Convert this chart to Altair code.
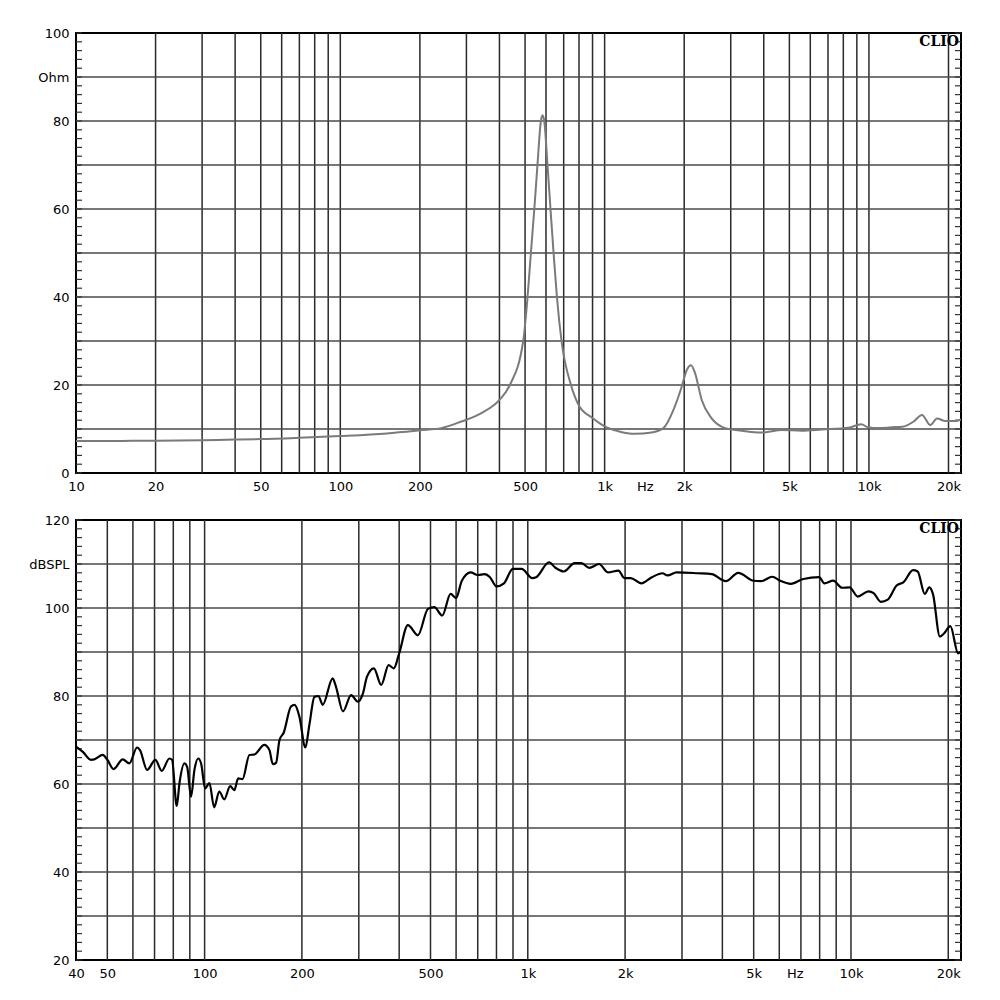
import altair as alt
import pandas as pd

# ---------------- data ----------------
imp_freq = [10, 15, 20, 30, 40, 50, 70, 100, 150, 200, 241, 287, 342, 400, 438, 492, 511, 526,
            542, 557, 574, 582, 591, 608, 624, 641, 660, 687, 746, 800, 900, 1000, 1127, 1302,
            1507, 1669, 1820, 1957, 2045, 2123, 2198, 2330, 2541, 2856, 3304, 3932, 4683, 5572,
            6637, 8376, 9350, 9920, 10880, 12220, 13340, 14770, 15880, 17070, 18100, 19450,
            21230, 22300]
imp_ohm = [7.3, 7.3, 7.35, 7.45, 7.6, 7.7, 8.0, 8.4, 9.0, 9.7, 10.2, 11.7, 13.6, 16.6, 20.0, 30.0,
           40.0, 50.0, 60.0, 70.0, 80.0, 81.3, 80.0, 70.0, 60.0, 50.0, 40.0, 30.0, 20.0, 15.3,
           12.5, 10.6, 9.5, 8.9, 9.2, 10.2, 14.3, 19.6, 23.4, 24.5, 22.7, 16.6, 12.4, 10.2, 9.6,
           9.2, 9.8, 9.6, 9.9, 10.3, 11.1, 10.4, 10.2, 10.4, 10.5, 11.7, 13.2, 10.9, 12.4, 11.8,
           11.8, 12.2]

spl_freq = [40, 42, 44.5, 45.6, 48.4, 50, 52.3, 55.8, 58.5, 61.8, 63.1, 66.4, 70.4, 73.7, 77.8,
            79.3, 82, 83.6, 86.6, 88.3, 90.8, 93, 95.6, 97.5, 100.4, 103.5, 107, 111, 115, 120,
            123.6, 127, 131, 137.6, 142.6, 153, 158.7, 162.6, 166.4, 170.5, 175.8, 185, 190,
            196.5, 205, 211, 218.7, 225, 232, 249, 255, 268, 284, 298, 309, 318, 334, 352, 371,
            385, 400, 425.6, 457, 491, 514, 543.6, 577, 600, 625, 666, 700, 735, 764, 800, 844,
            899, 957, 1032, 1061, 1164, 1215, 1293, 1395, 1466, 1549, 1662, 1769, 1908, 1990,
            2081, 2245, 2421, 2611, 2705, 2886, 3354, 3709, 4100, 4477, 5000, 5268, 5708, 6030,
            6520, 7121, 7971, 8276, 8812, 9383, 9900, 10500, 11325, 11750, 12370, 13000, 13840,
            14550, 15560, 16080, 16920, 17470, 17930, 18840, 19400, 20300, 21460, 21900]
spl_db = [68.5, 67.3, 65.5, 65.6, 66.6, 65.5, 63.4, 65.6, 64.7, 68.3, 67.7, 63.2, 65.5, 63.0, 65.8,
          65.5, 55.0, 60.2, 64.7, 63.9, 57.1, 63.2, 65.8, 64.7, 59.0, 60.2, 54.7, 58.3, 56.5, 59.5,
          58.6, 61.3, 61.1, 66.6, 66.7, 68.9, 67.7, 64.5, 64.8, 70.0, 71.7, 77.6, 78.0,
          75.3, 68.3, 73.5, 79.8, 80.0, 78.0, 84.0, 82.1, 76.5, 80.2, 78.7, 80.6, 84.4, 86.3, 82.5,
          87.0, 86.3, 89.7, 96.1, 93.8, 99.8, 100.2, 98.3, 103.2, 102.3, 106.2, 108.1, 107.5,
          107.7, 107.0, 104.9, 105.6, 108.9, 108.9, 106.8, 107.0, 110.4, 109.2, 108.3, 110.2,
          110.2, 109.1, 110.0, 108.1, 108.5, 106.8, 106.8, 105.6, 107.0, 107.9, 107.4, 108.1,
          107.9, 107.7, 106.1, 108.0, 106.2, 106.1, 107.1, 106.2, 105.5, 106.6, 107.0, 105.6,
          106.2, 104.6, 104.7, 102.6, 103.8, 103.4, 101.4, 101.9, 105.1, 105.9, 108.6, 108.3,
          103.2, 104.7, 103.2, 93.5, 94.2, 95.9, 89.7, 90.1]

imp_grid_x = [20, 30, 40, 50, 60, 70, 80, 90, 100, 200, 300, 400, 500, 600, 700, 800, 900, 1000,
              2000, 3000, 4000, 5000, 6000, 7000, 8000, 9000, 10000, 20000]
imp_grid_y = [10, 20, 30, 40, 50, 60, 70, 80, 90]
spl_grid_x = [50, 60, 70, 80, 90, 100, 200, 300, 400, 500, 600, 700, 800, 900, 1000,
              2000, 3000, 4000, 5000, 6000, 7000, 8000, 9000, 10000, 20000]
spl_grid_y = [30, 40, 50, 60, 70, 80, 90, 100, 110]
imp_minor = list(range(0, 101, 2))
spl_minor = list(range(20, 121, 2))

imp_xticks = [10, 20, 50, 100, 200, 500, 1000, 1420, 2000, 5000, 10000, 20000]
imp_xlabels = ["10", "20", "50", "100", "200", "500", "1k", "Hz", "2k", "5k", "10k", "20k"]
spl_xticks = [40, 50, 100, 200, 500, 1000, 2000, 5000, 6700, 10000, 20000]
spl_xlabels = ["40", "50", "100", "200", "500", "1k", "2k", "5k", "Hz", "10k", "20k"]
imp_yticks = [0, 10, 20, 30, 40, 50, 60, 70, 80, 90, 100]
imp_ylabels = ["0", "", "20", "", "40", "", "60", "", "80", "Ohm", "100"]
spl_yticks = [20, 30, 40, 50, 60, 70, 80, 90, 100, 110, 120]
spl_ylabels = ["20", "", "40", "", "60", "", "80", "", "100", "dBSPL", "120"]

W, H = 885, 440
FONT = "DejaVu Sans"


def label_expr(vals, labels):
    items = ", ".join("'%s': '%s'" % (repr(v), l) for v, l in zip(vals, labels))
    return "{" + items + "}['' + datum.value]"


def panel(freqs, vals, xdom, ydom, gx, gy, minor, xt, xl, yt, yl, color, sw):
    xs = alt.Scale(type="log", domain=xdom, nice=False)
    ys = alt.Scale(domain=ydom, nice=False, zero=False)
    xaxis = alt.Axis(values=xt, labelExpr=label_expr(xt, xl), grid=False, ticks=False,
                     domain=False, labelFlush=False, labelOverlap=False, labelPadding=7,
                     labelFontSize=13, labelFont=FONT, labelColor="black", title=None)
    yaxis = alt.Axis(values=yt, labelExpr=label_expr(yt, yl), grid=False, ticks=False,
                     domain=False, labelPadding=7, labelFontSize=13, labelFont=FONT,
                     labelColor="black", title=None, minExtent=62, maxExtent=62)

    curve_df = pd.DataFrame({"f": freqs, "v": vals})
    gx_df = pd.DataFrame({"f": gx})
    gy_df = pd.DataFrame({"v": gy})
    mn_df = pd.DataFrame({"v": minor})

    vgrid = alt.Chart(gx_df).mark_rule(color="#2a2a2a", strokeWidth=1.5).encode(
        x=alt.X("f:Q", scale=xs, axis=xaxis))
    hgrid = alt.Chart(gy_df).mark_rule(color="#4a4a4a", strokeWidth=1.5).encode(
        y=alt.Y("v:Q", scale=ys, axis=yaxis))
    tick_l = alt.Chart(mn_df).mark_rule(color="#333", strokeWidth=1.2).encode(
        y=alt.Y("v:Q", scale=ys, axis=yaxis), x=alt.value(0), x2=alt.value(6))
    tick_r = alt.Chart(mn_df).mark_rule(color="#333", strokeWidth=1.2).encode(
        y=alt.Y("v:Q", scale=ys, axis=yaxis), x=alt.value(W - 6), x2=alt.value(W))
    line = alt.Chart(curve_df).mark_line(color=color, strokeWidth=sw,
                                         interpolate="monotone", clip=True).encode(
        x=alt.X("f:Q", scale=xs, axis=xaxis),
        y=alt.Y("v:Q", scale=ys, axis=yaxis))
    clio = alt.Chart(pd.DataFrame({"t": ["CLIO"]})).mark_text(
        align="right", baseline="top", font="DejaVu Serif", fontWeight="bold",
        fontSize=14, color="black").encode(
        text="t:N", x=alt.value(W - 2), y=alt.value(2))
    return alt.layer(vgrid, hgrid, tick_l, tick_r, line, clio).properties(width=W, height=H)


top = panel(imp_freq, imp_ohm, [10, 22300], [0, 100], imp_grid_x, imp_grid_y, imp_minor,
            imp_xticks, imp_xlabels, imp_yticks, imp_ylabels, "#7a7a7a", 2.0)
bottom = panel(spl_freq, spl_db, [40, 21900], [20, 120], spl_grid_x, spl_grid_y, spl_minor,
               spl_xticks, spl_xlabels, spl_yticks, spl_ylabels, "#000000", 2.2)

chart = alt.vconcat(top, bottom, spacing=47, bounds="flush").properties(
    padding={"left": 5, "top": 18, "right": 5, "bottom": 5},
    background="white",
).configure_view(stroke="black", strokeWidth=2)

chart.save("out.html", embed_options={"renderer": "svg", "actions": False})
